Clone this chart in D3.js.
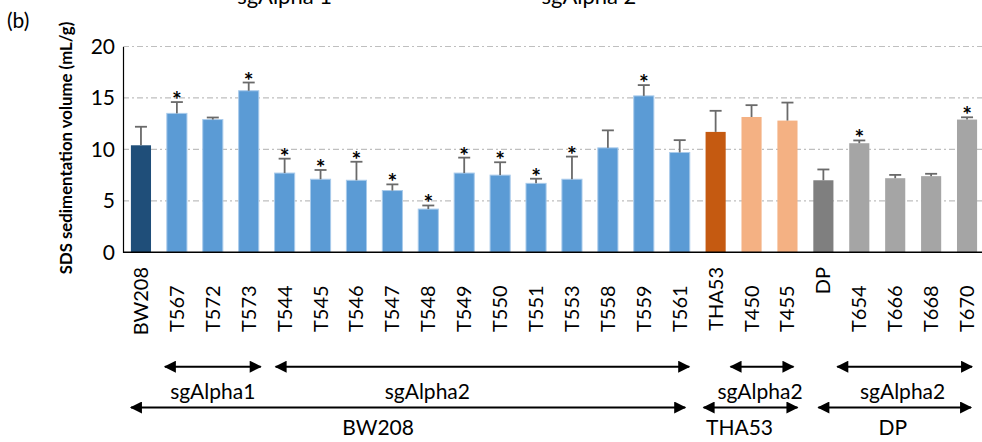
<!DOCTYPE html>
<html>
<head>
<meta charset="utf-8">
<script src="https://cdn.jsdelivr.net/npm/d3@7"></script>
<style>
  html, body { margin: 0; padding: 0; background: #fff; }
  svg { display: block; }
  text { font-family: Lato, "Open Sans", sans-serif; fill: #000; }
</style>
</head>
<body>
<svg id="chart" width="982" height="442"></svg>
<script>
// ---------- data ----------
const categories = ["BW208","T567","T572","T573","T544","T545","T546","T547","T548","T549","T550","T551","T553","T558","T559","T561","THA53","T450","T455","DP","T654","T666","T668","T670"];
const values =     [10.4, 13.5, 12.9, 15.7, 7.7, 7.1, 7.0, 6.0, 4.2, 7.7, 7.5, 6.7, 7.1, 10.15, 15.2, 9.7, 11.7, 13.15, 12.8, 7.0, 10.6, 7.2, 7.4, 12.9];
const errors =     [1.8, 1.1, 0.2, 0.8, 1.4, 0.9, 1.8, 0.6, 0.35, 1.5, 1.25, 0.45, 2.2, 1.7, 1.05, 1.2, 2.05, 1.15, 1.75, 1.05, 0.27, 0.32, 0.23, 0.22];
const significant = [false,true,false,true,true,true,true,true,true,true,true,true,true,false,true,false,false,false,false,false,true,false,false,true];
const barGroup =   ["wt1","ko1","ko1","ko1","ko1","ko1","ko1","ko1","ko1","ko1","ko1","ko1","ko1","ko1","ko1","ko1","wt2","ko2","ko2","wt3","ko3","ko3","ko3","ko3"];
const yTicks = [0, 5, 10, 15, 20];
const yTitle = "SDS sedimentation volume (mL/g)";
const panelLabel = "(b)";
const topTitles = [{label: "sgAlpha 1", at: "T544"}, {label: "sgAlpha 2", at: "T553"}];
const annoRow1 = [
  {label: "sgAlpha1", from: "T567", to: "T573"},
  {label: "sgAlpha2", from: "T544", to: "T561"},
  {label: "sgAlpha2", from: "T450", to: "T455"},
  {label: "sgAlpha2", from: "T654", to: "T670"}
];
const annoRow2 = [
  {label: "BW208", from: "BW208", to: "T561"},
  {label: "THA53", from: "THA53", to: "T455"},
  {label: "DP", from: "DP", to: "T670"}
];

// ---------- layout / style ----------
const colorOf = {wt1: "#1F4E79", ko1: "#5B9BD5", wt2: "#C55A11", ko2: "#F4B183", wt3: "#7F7F7F", ko3: "#A5A5A5"};
const strokeOf = {wt1: "none", ko1: "#A9CBEB", wt2: "none", ko2: "none", wt3: "none", ko3: "none"};
const plotLeft = 123, plotRight = 985, plotTop = 46.5, plotBottom = 252.3;
const tickFont = 20;
const topTitleOff = [0, 17];
// per-arrow fine offsets [startOffset, endOffset, labelOffset] relative to band centers
const row1Off = [[-14, 14, 0], [-11, 11.5, -55], [-23, 8, -2], [-24, 7, -2]];
const row2Off = [[-12, 7.5, -30], [-14, 12, -11], [-7, 6, -2]];

const svg = d3.select("#chart");
const x = d3.scaleBand().domain(categories).range([plotLeft, plotRight]).paddingInner(0.44).paddingOuter(0.22);
const y = d3.scaleLinear().domain([0, 20]).range([plotBottom, plotTop]);
const cx = c => x(c) + x.bandwidth() / 2;

// gridlines
svg.append("g").selectAll("line").data(yTicks.filter(t => t > 0)).join("line")
  .attr("x1", plotLeft).attr("x2", 982)
  .attr("y1", d => y(d)).attr("y2", d => y(d))
  .attr("stroke", "#BFBFBF").attr("stroke-width", 1.2)
  .attr("stroke-dasharray", "6,3,2,3");

// y axis
const yAxis = d3.axisLeft(y).tickValues(yTicks).tickSize(0).tickPadding(8);
const gy = svg.append("g").attr("transform", `translate(${plotLeft},0)`).call(yAxis);
gy.select(".domain").attr("stroke", "#000").attr("stroke-width", 1.2);
gy.selectAll("text").attr("font-size", 21).attr("font-family", "Lato, sans-serif").attr("fill", "#000");

// bars
svg.append("g").selectAll("rect").data(categories).join("rect")
  .attr("x", d => x(d)).attr("width", x.bandwidth())
  .attr("y", (d, i) => y(values[i])).attr("height", (d, i) => y(0) - y(values[i]))
  .attr("fill", (d, i) => colorOf[barGroup[i]])
  .attr("stroke", (d, i) => strokeOf[barGroup[i]]).attr("stroke-width", 1);

// error bars
const eg = svg.append("g").attr("stroke", "#6A6A6A").attr("stroke-width", 1.8);
categories.forEach((c, i) => {
  const top = y(values[i] + errors[i]);
  eg.append("line").attr("x1", cx(c)).attr("x2", cx(c)).attr("y1", y(values[i])).attr("y2", top);
  eg.append("line").attr("x1", cx(c) - 6).attr("x2", cx(c) + 6).attr("y1", top).attr("y2", top);
});

// significance asterisks
svg.append("g").selectAll("text").data(categories.filter((c, i) => significant[i])).join("text")
  .attr("x", d => cx(d))
  .attr("y", d => { const i = categories.indexOf(d); return y(values[i] + errors[i]) + 6; })
  .attr("text-anchor", "middle").attr("font-size", 23).attr("font-weight", "bold")
  .text("*");

// x axis line
svg.append("line").attr("x1", plotLeft).attr("x2", 982).attr("y1", plotBottom).attr("y2", plotBottom)
  .attr("stroke", "#000").attr("stroke-width", 1.6);

// x labels (rotated)
svg.append("g").selectAll("text").data(categories).join("text")
  .attr("transform", d => {
    const bottomAnchored = /^T\d/.test(d);
    return `translate(${cx(d) + 7},${bottomAnchored ? 332 : 267}) rotate(-90)`;
  })
  .attr("text-anchor", d => /^T\d/.test(d) ? "start" : "end")
  .attr("font-size", tickFont)
  .text(d => d);

// y title
svg.append("text").attr("transform", "translate(72,148) rotate(-90)")
  .attr("text-anchor", "middle").attr("font-size", 16.8).attr("font-weight", "bold")
  .text(yTitle);

// panel label
svg.append("text").attr("x", 7).attr("y", 28).attr("font-size", 21).text(panelLabel);

// top (clipped) titles
svg.append("g").selectAll("text").data(topTitles).join("text")
  .attr("x", (d, i) => cx(d.at) + topTitleOff[i]).attr("y", 4).attr("text-anchor", "middle").attr("font-size", 22)
  .text(d => d.label);

// arrow heads
const defs = svg.append("defs");
defs.append("marker").attr("id", "ah").attr("viewBox", "0 0 12 12").attr("refX", 11).attr("refY", 6)
  .attr("markerWidth", 13).attr("markerHeight", 12).attr("markerUnits", "userSpaceOnUse").attr("orient", "auto-start-reverse")
  .append("path").attr("d", "M0,0 L12,6 L0,12 Z").attr("fill", "#000");

function drawRow(rows, offs, yLine, yText) {
  const g = svg.append("g");
  rows.forEach((r, i) => {
    const [o1, o2, lo] = offs[i];
    const x1 = cx(r.from) + o1, x2 = cx(r.to) + o2;
    g.append("line").attr("x1", x1 + 2).attr("x2", x2 - 2).attr("y1", yLine).attr("y2", yLine)
      .attr("stroke", "#000").attr("stroke-width", 2)
      .attr("marker-start", "url(#ah)").attr("marker-end", "url(#ah)");
    g.append("text").attr("x", (x1 + x2) / 2 + lo).attr("y", yText).attr("text-anchor", "middle")
      .attr("font-size", 21).text(r.label);
  });
}
drawRow(annoRow1, row1Off, 366.7, 399);
drawRow(annoRow2, row2Off, 407.5, 435);
</script>
</body>
</html>
